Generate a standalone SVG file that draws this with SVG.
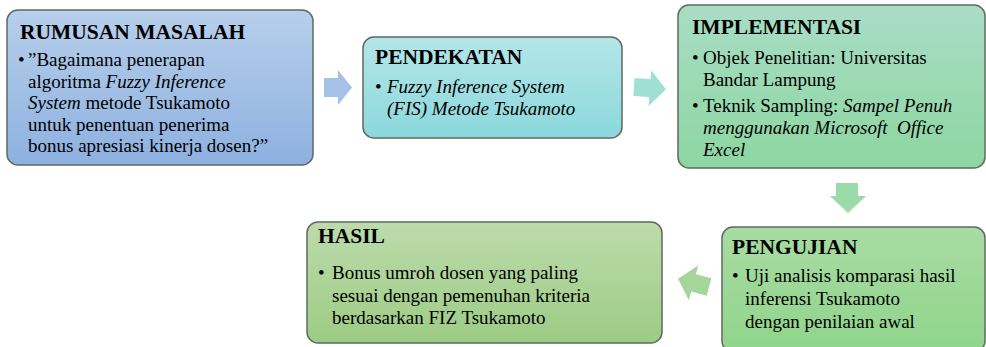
<svg xmlns="http://www.w3.org/2000/svg" width="986" height="347" viewBox="0 0 986 347">
<defs>
<linearGradient id="gBlue" x1="0" y1="0" x2="0" y2="1"><stop offset="0" stop-color="#b7cfeb"/><stop offset="1" stop-color="#8db1e0"/></linearGradient>
<linearGradient id="gTeal" x1="0" y1="0" x2="0" y2="1"><stop offset="0" stop-color="#b4e6e9"/><stop offset="1" stop-color="#8bd8dc"/></linearGradient>
<linearGradient id="gMint" x1="0" y1="0" x2="0" y2="1"><stop offset="0" stop-color="#a9ddc5"/><stop offset="1" stop-color="#8dd6a1"/></linearGradient>
<linearGradient id="gGreen" x1="0" y1="0" x2="0" y2="1"><stop offset="0" stop-color="#a9dba3"/><stop offset="1" stop-color="#8fd58b"/></linearGradient>
<linearGradient id="gOlive" x1="0" y1="0" x2="0" y2="1"><stop offset="0" stop-color="#bddbab"/><stop offset="1" stop-color="#9ccc85"/></linearGradient>
<style>
.box{stroke:#5f6b5f;stroke-width:1.5}
text{font-family:'Liberation Serif','DejaVu Serif',serif;font-size:19px;fill:#000;white-space:pre}
.h{font-weight:bold;font-size:21.5px}
.i{font-style:italic}
</style>
</defs>

<g id="connectors">
<polygon points="324,78 338,78 338,70 352,87.5 338,105 338,97 324,97" fill="#a6c1e6"/>
<polygon points="0,-9 16,-9 16,-18 32,0 16,18 16,9 0,9" fill="#9fdfd4" transform="translate(634,87) rotate(4)"/>
<polygon points="836,183 858,183 858,196 866,196 848,213 830,196 836,196" fill="#9bdaa9"/>
<polygon points="0,-9 16,-9 16,-18 32,0 16,18 16,9 0,9" fill="#a4d59b" transform="translate(709,287) rotate(195)"/>
</g>

<g id="rumusan">
<rect class="box" x="7" y="10" width="306" height="155" rx="11" fill="url(#gBlue)"/>
<text class="h" x="20" y="39">RUMUSAN MASALAH</text>
<text x="18" y="66">•</text>
<text x="28" y="66">”Bagaimana penerapan</text>
<text x="28" y="88">algoritma <tspan class="i">Fuzzy Inference</tspan></text>
<text x="28" y="109"><tspan class="i">System</tspan> metode Tsukamoto</text>
<text x="28" y="131">untuk penentuan penerima</text>
<text x="28" y="152">bonus apresiasi kinerja dosen?”</text>
</g>

<g id="pendekatan">
<rect class="box" x="363" y="37" width="259" height="101" rx="11" fill="url(#gTeal)"/>
<text class="h" x="375" y="64">PENDEKATAN</text>
<text x="375" y="93">•</text>
<text class="i" x="387" y="93">Fuzzy Inference System</text>
<text class="i" x="387" y="115">(FIS) Metode Tsukamoto</text>
</g>

<g id="implementasi">
<rect class="box" x="678" y="5" width="307" height="163" rx="11" fill="url(#gMint)"/>
<text class="h" x="692" y="34">IMPLEMENTASI</text>
<text x="692" y="64">•</text>
<text x="703" y="64">Objek Penelitian: Universitas</text>
<text x="703" y="86">Bandar Lampung</text>
<text x="692" y="112">•</text>
<text x="703" y="112">Teknik Sampling: <tspan class="i">Sampel Penuh</tspan></text>
<text class="i" x="703" y="134">menggunakan Microsoft  Office</text>
<text class="i" x="703" y="156">Excel</text>
</g>

<g id="pengujian">
<rect class="box" x="722" y="227" width="263" height="125" rx="11" fill="url(#gGreen)"/>
<text class="h" x="732" y="254">PENGUJIAN</text>
<text x="732" y="282">•</text>
<text x="745" y="282">Uji analisis komparasi hasil</text>
<text x="745" y="305">inferensi Tsukamoto</text>
<text x="745" y="328">dengan penilaian awal</text>
</g>

<g id="hasil">
<rect class="box" x="307" y="222" width="355" height="121" rx="11" fill="url(#gOlive)"/>
<text class="h" x="318" y="243">HASIL</text>
<text x="318" y="279">•</text>
<text x="332" y="279">Bonus umroh dosen yang paling</text>
<text x="332" y="302">sesuai dengan pemenuhan kriteria</text>
<text x="332" y="324">berdasarkan FIZ Tsukamoto</text>
</g>
</svg>
